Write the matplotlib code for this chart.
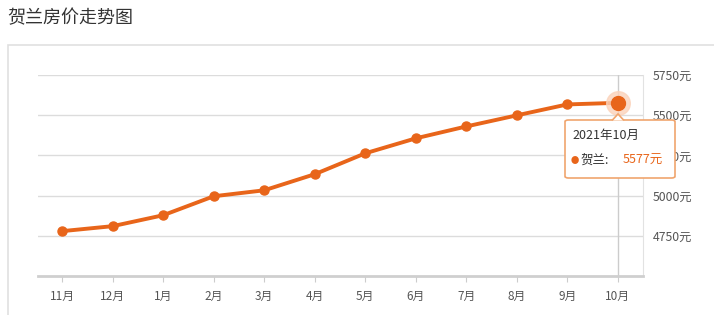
import matplotlib.pyplot as plt
from matplotlib.patches import Rectangle, FancyBboxPatch, Polygon

plt.rcParams['font.family'] = ['Noto Sans CJK SC', 'DejaVu Sans']

months = ['11月', '12月', '1月', '2月', '3月', '4月', '5月', '6月', '7月', '8月', '9月', '10月']
prices = [4779, 4810, 4878, 4996, 5033, 5133, 5263, 5356, 5430, 5499, 5567, 5577]
yticks = [4750, 5000, 5250, 5500, 5750]
ytick_labels = ['4750元', '5000元', '5250元', '5500元', '5750元']

orange = '#e8651a'
grid_c = '#dcdcdc'
text_c = '#555555'

fig = plt.figure(figsize=(7.14, 3.15), dpi=100)

# outer panel frame
fig.patches.append(Rectangle((8 / 714, -0.1), 1.0, (315 - 45) / 315 + 0.1,
                             transform=fig.transFigure, fill=False,
                             edgecolor='#e0e0e0', linewidth=1.2))
fig.text(7 / 714, 1 - 18 / 315, '贺兰房价走势图', fontsize=13, color='#333333',
         va='center', ha='left')

ax = fig.add_axes([38 / 714, (315 - 276) / 315, (643 - 38) / 714, (276 - 75) / 315])
x = list(range(len(months)))

ax.set_ylim(4500, 5750)
ax.set_xlim(-0.48, 11.5)
for v in yticks:
    ax.axhline(v, color=grid_c, linewidth=1, zorder=0)

ax.plot(x, prices, color=orange, linewidth=2.8, marker='o', markersize=6.5,
        zorder=3, solid_capstyle='round')

# highlighted last point and crosshair
ax.axvline(x[-1], color='#cccccc', linewidth=1, zorder=1)
ax.plot(x[-1], prices[-1], 'o', color='#fbd3bb', markersize=17, zorder=4, alpha=0.8)
ax.plot(x[-1], prices[-1], 'o', color=orange, markersize=10, zorder=5)

for s in ['top', 'left']:
    ax.spines[s].set_visible(False)
ax.spines['right'].set_color('#e2e2e2')
ax.spines['bottom'].set_color('#cfcfcf')
ax.spines['bottom'].set_linewidth(2)

ax.set_xticks(x)
ax.set_xticklabels(months, fontsize=8.5, color=text_c)
ax.tick_params(axis='x', length=4, color='#cccccc', pad=6)
ax.yaxis.tick_right()
ax.set_yticks(yticks)
ax.set_yticklabels(ytick_labels, fontsize=8.8, color=text_c)
ax.tick_params(axis='y', length=0, pad=7)

# tooltip
tx0, ty0, tw, th = 565 / 714, 1 - 178 / 315, 110 / 714, 58 / 315
fig.patches.append(FancyBboxPatch((tx0, ty0), tw, th, transform=fig.transFigure,
                                  boxstyle='round,pad=0,rounding_size=0.005',
                                  facecolor='white', edgecolor='#f0a56e',
                                  linewidth=1.2, zorder=10))
fig.patches.append(Polygon([(612 / 714, 1 - 120.5 / 315), (618 / 714, 1 - 114 / 315),
                            (624 / 714, 1 - 120.5 / 315)], closed=False,
                           transform=fig.transFigure, facecolor='white',
                           edgecolor='#f0a56e', linewidth=1.2, zorder=11))
fig.text(572 / 714, 1 - 135 / 315, '2021年10月', fontsize=9, color='#333333',
         va='center', ha='left', zorder=12)
fig.text(571 / 714, 1 - 160 / 315, '●', fontsize=6, color=orange,
         va='center', ha='left', zorder=12)
fig.text(581 / 714, 1 - 160 / 315, '贺兰:', fontsize=9, color='#333333',
         va='center', ha='left', zorder=12)
fig.text(623 / 714, 1 - 160 / 315, '%d元' % prices[-1], fontsize=9, color=orange,
         va='center', ha='left', zorder=12)

fig.savefig('out.png', dpi=100)
